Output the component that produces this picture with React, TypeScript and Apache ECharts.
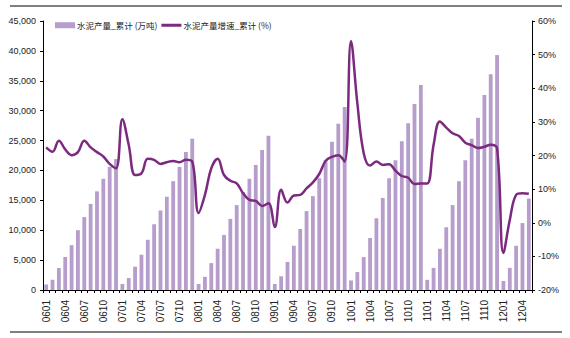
import React, { useEffect, useRef } from "react";
import * as echarts from "echarts";

const categories: string[] = [];
for (const yy of ["06", "07", "08", "09", "10", "11", "12"]) {
  const months = yy === "12" ? 5 : 12;
  for (let m = 1; m <= months; m++) categories.push(yy + String(m).padStart(2, "0"));
}

const outputCum: number[] = [
  // 2006
  900, 1700, 3700, 5500, 7500, 10000, 12200, 14400, 16500, 18600, 20600, 21900,
  // 2007
  1000, 2000, 3900, 5900, 8400, 11000, 13300, 15600, 18200, 20600, 23100, 25300,
  // 2008
  1000, 2200, 4500, 6900, 9200, 11900, 14200, 16400, 18600, 20900, 23400, 25800,
  // 2009
  1000, 2300, 4700, 7400, 10200, 13200, 15700, 18700, 21700, 24800, 27800, 30600,
  // 2010
  1600, 3000, 5500, 8700, 12000, 15400, 18700, 21700, 24900, 27900, 31100, 34300,
  // 2011
  1700, 3700, 6900, 10500, 14200, 18200, 21700, 25300, 28800, 32600, 36100, 39300,
  // 2012
  1500, 3700, 7400, 11200, 15300,
];

const growthCum: number[] = [
  // 2006
  22.4, 21.1, 24.4, 21.8, 20.1, 21.0, 24.4, 22.4, 21.0, 19.7, 17.5, 16.2,
  // 2007
  30.8, 23.1, 14.2, 14.7, 19.0, 18.7, 17.5, 18.0, 18.4, 18.0, 18.7, 18.2,
  // 2008
  2.9, 8.3, 16.2, 19.0, 14.2, 12.5, 11.7, 8.8, 6.8, 6.5, 5.0, 5.8,
  // 2009
  -1.3, 9.8, 6.0, 8.1, 8.3, 10.2, 12.0, 14.5, 18.4, 19.6, 20.1, 18.2,
  // 2010
  54.0, 35.5, 20.7, 17.0, 18.2, 17.2, 17.4, 15.5, 13.9, 13.4, 11.5, 11.7,
  // 2011
  11.7, 23.1, 30.1, 28.3, 26.6, 25.8, 23.8, 23.1, 22.2, 22.6, 23.2, 22.1,
  // 2012
  -9.0, 0.8, 8.3, 8.8, 8.6,
];

const seriesNames = ["水泥产量_累计 (万吨)", "水泥产量增速_累计 (%)"];

const BAR_COLOR = "#B69DCB";
const LINE_COLOR = "#7B2A7F";
const NARROW = "'Liberation Sans Narrow', 'Arial Narrow', 'Liberation Sans', Arial, sans-serif";

export default function App() {
  const ref = useRef<HTMLDivElement>(null);
  useEffect(() => {
    if (!ref.current) return;
    const chart = echarts.init(ref.current, undefined, { renderer: "svg" });
    chart.setOption({
      animation: false,
      backgroundColor: "#ffffff",
      legend: {
        left: 50,
        top: 16,
        itemGap: 4,
        itemWidth: 20,
        itemHeight: 6,
        textStyle: { fontSize: 8.5, color: "#222", fontFamily: "'Noto Sans CJK SC', sans-serif", padding: [0, 0, 0, -3] },
        data: [
          { name: seriesNames[0], icon: "rect" },
          { name: seriesNames[1], icon: "path://M0,0 L20,0 L20,3 L0,3 Z" },
        ],
      },
      grid: { left: 43, right: 38, top: 21, bottom: 48 },
      xAxis: {
        type: "category",
        data: categories,
        boundaryGap: true,
        axisLine: { lineStyle: { color: "#000", width: 1 } },
        axisTick: { show: true, interval: 0, length: 3, lineStyle: { color: "#000" } },
        axisLabel: {
          interval: 2,
          rotate: 90,
          fontSize: 10,
          color: "#222",
          fontFamily: "'Liberation Sans', Arial, sans-serif",
          margin: 10,
        },
        splitLine: { show: false },
      },
      yAxis: [
        {
          type: "value",
          min: 0,
          max: 45000,
          interval: 5000,
          axisLine: { show: true, lineStyle: { color: "#000" } },
          axisTick: { show: true, length: 3, lineStyle: { color: "#000" } },
          splitLine: { show: false },
          axisLabel: {
            fontSize: 9,
            color: "#222",
            fontFamily: NARROW,
            margin: 7,
            formatter: (v: number) => v.toLocaleString("en-US"),
          },
        },
        {
          type: "value",
          min: -20,
          max: 60,
          interval: 10,
          position: "right",
          axisLine: { show: true, lineStyle: { color: "#000" } },
          axisTick: { show: true, length: 3, lineStyle: { color: "#000" } },
          splitLine: { show: false },
          axisLabel: {
            fontSize: 9,
            color: "#222",
            fontFamily: NARROW,
            margin: 6,
            formatter: "{value}%",
          },
        },
      ],
      graphic: [
        { type: "line", shape: { x1: 10, y1: 6, x2: 562, y2: 6 }, style: { stroke: "#000", lineWidth: 1 } },
        { type: "line", shape: { x1: 10, y1: 332, x2: 562, y2: 332 }, style: { stroke: "#000", lineWidth: 1 } },
      ],
      series: [
        {
          name: seriesNames[0],
          type: "bar",
          data: outputCum,
          yAxisIndex: 0,
          barWidth: "60%",
          itemStyle: { color: BAR_COLOR },
        },
        {
          name: seriesNames[1],
          type: "line",
          data: growthCum,
          yAxisIndex: 1,
          smooth: 0.4,
          showSymbol: false,
          symbol: "none",
          lineStyle: { color: LINE_COLOR, width: 2.5 },
          itemStyle: { color: LINE_COLOR },
          z: 3,
        },
      ],
    });
    return () => chart.dispose();
  }, []);
  return (
    <div
      ref={ref}
      style={{ position: "absolute", left: 0, top: 0, width: 570, height: 338 }}
    />
  );
}
